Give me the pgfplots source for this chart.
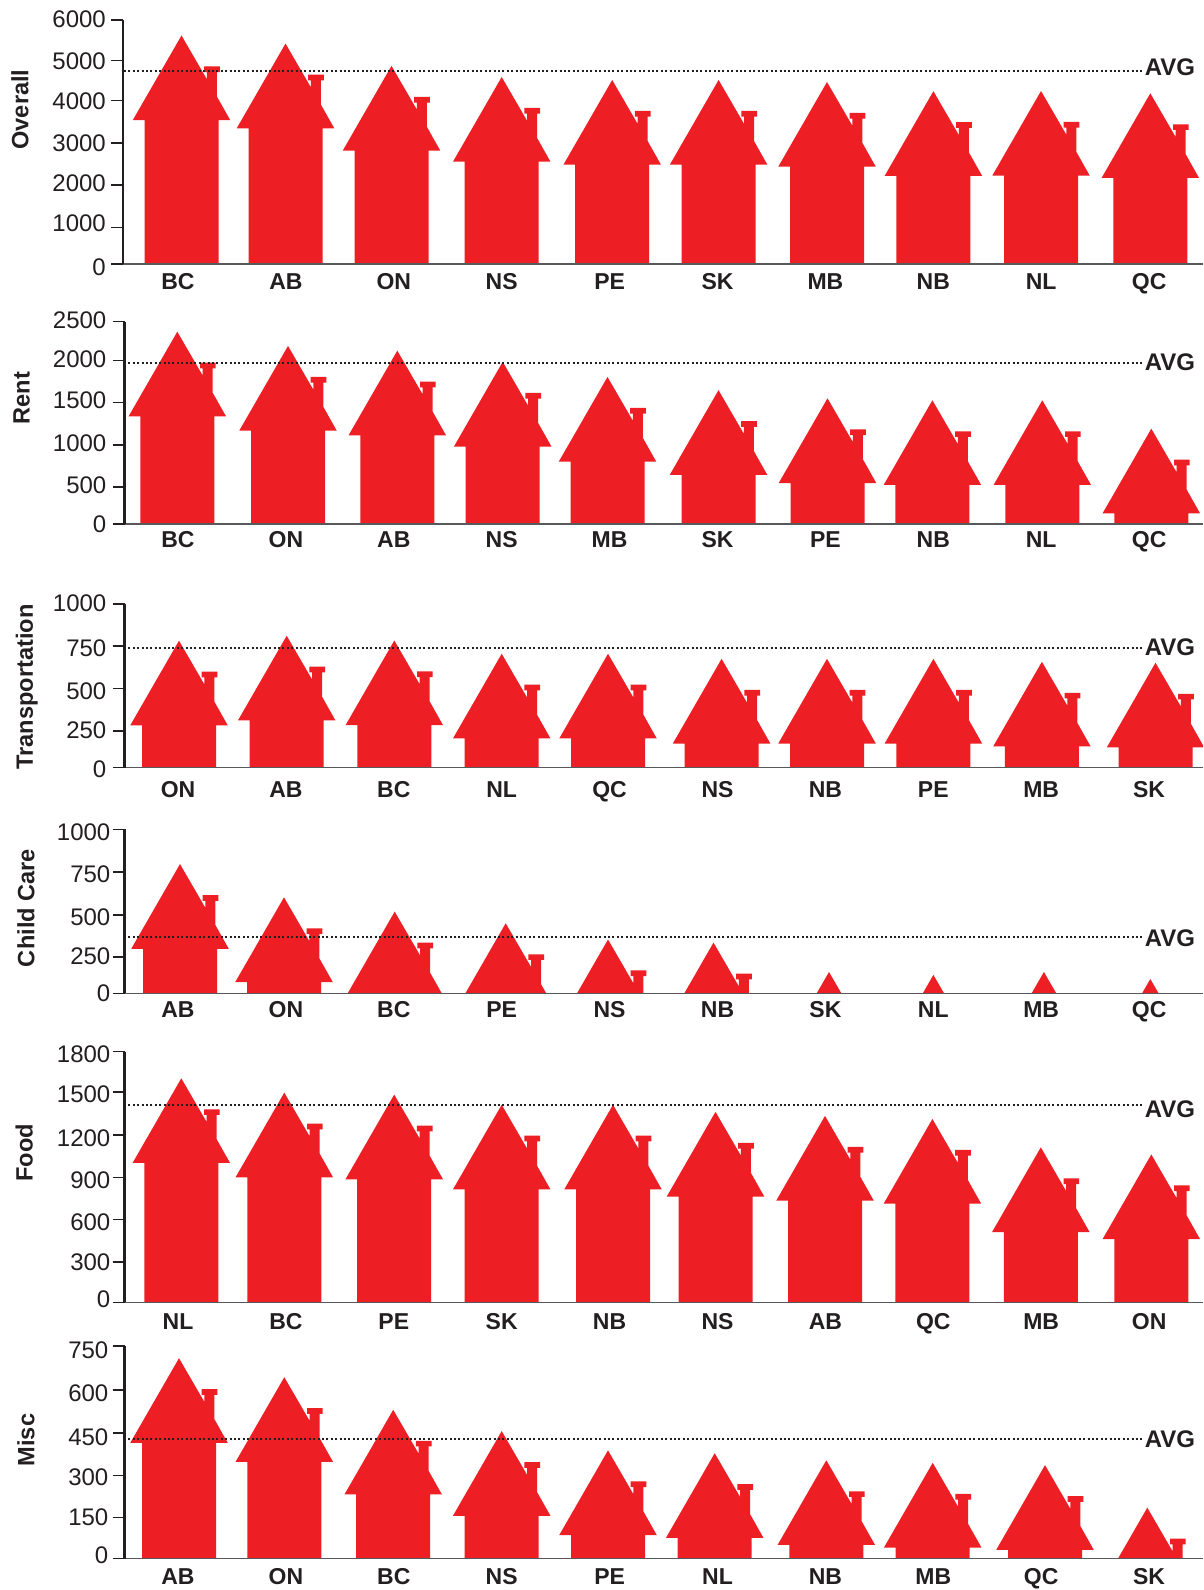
\documentclass[border=0pt]{standalone}
\usepackage{fontspec}
\setmainfont{Liberation Sans}
\usepackage{pgfplots}
\usepackage{pgfplotstable}
\pgfplotsset{compat=1.18}

\definecolor{housered}{HTML}{ED1F24}
\definecolor{inkdark}{HTML}{231F20}
\definecolor{basegray}{HTML}{58595B}

% house outline in px, measured down from the apex
\pgfplotstableread{
dx dy
0 0
25.4 43.8
25.4 36.7
22.7 36.7
22.7 31
38.4 31
38.4 36.7
35.4 36.7
35.4 61
48.75 84.7
37 84.7
37 700
-37 700
-37 84.7
-48.75 84.7
0 0
}\houseshape

% \house{apex x in px}{value}; \upp = units per px of the current panel
\newcommand{\house}[2]{%
  \addplot[fill=housered,draw=none,mark=none,forget plot]
    table[x expr=#1+\thisrow{dx},y expr=#2-\thisrow{dy}*\upp] {\houseshape};
}
\newcommand{\avgline}[2]{%
  \addplot[inkdark,line width=1.9pt,dash pattern=on 1.9pt off 2.5pt,mark=none,forget plot]
    coordinates {(124,#1) (1141.7,#1)};
  \node[font=\fontsize{24}{24}\selectfont\bfseries,text=inkdark,inner sep=0pt] at (axis cs:1170,#2) {AVG};
}
% tick label moved by #1 px downward
\newcommand{\tl}[2]{\raisebox{\dimexpr-8.6pt-#1pt\relax}[0pt][0pt]{#2}}

\pgfplotsset{
  panel/.style={
    anchor=south west,
    scale only axis,
    axis on top,
    axis lines=left,
    axis line style={-},
    ymin=0,
    xmax=1203,
    xtick={178,285.9,393.8,501.7,609.6,717.5,825.4,933.3,1041.2,1149.1},
    major x tick style={draw=none},
    major tick length=12pt,
    tick align=outside,
    ytick style={inkdark,line width=1.5pt},
    y axis line style={inkdark,line width=2.2pt},
    x axis line style={basegray,line width=1.4pt},
    minor tick num=0,
    yticklabel style={font=\fontsize{24}{24}\selectfont,text=inkdark,inner sep=0pt,anchor=east},
    ylabel style={font=\fontsize{23.6}{24}\selectfont\bfseries,text=inkdark,anchor=center},
    scaled y ticks=false,
  },
  xlab/.style={
    xticklabel style={font=\fontsize{23}{23}\selectfont\bfseries,text=inkdark,anchor=center,
      text height=16pt,text depth=0pt,inner sep=0pt,yshift=#1},
  },
}

\begin{document}
\begin{tikzpicture}[x=1pt,y=1pt]
\useasboundingbox (0,0) rectangle (1203pt,1590pt);

% Overall
\def\upp{24.59}
\begin{axis}[panel,xlab=-5.5pt,at={(123pt,1326pt)},width=1080pt,height=244pt,
    xmin=123,ymax=6000,
    ytick={0,893,1943,2975,4016,5009,6000},
    yticklabels={\tl{2.7}{0},\tl{-4.3}{1000},\tl{-2}{2000},\tl{-0.3}{3000},\tl{0.3}{4000},\tl{0.7}{5000},\tl{-0.7}{6000}},
    yticklabel style={xshift=-5pt},
    xticklabels={BC,AB,ON,NS,PE,SK,MB,NB,NL,QC},
    ylabel={Overall},ylabel style={at={(axis description cs:-0.0954,0.633)}}]
\house{181.5}{5619}
\house{285.5}{5420}
\house{391.5}{4871}
\house{501.7}{4598}
\house{612.2}{4525}
\house{718.6}{4525}
\house{827}{4475}
\house{933.4}{4249}
\house{1041}{4254}
\house{1150.3}{4197}
\avgline{4739}{4828}
\end{axis}

% Rent
\def\upp{12.358}
\begin{axis}[panel,xlab=-3.5pt,at={(124.5pt,1066pt)},width=1078.5pt,height=202.3pt,
    xmin=124.5,ymax=2500,
    ytick={0,454,976,1499,2023,2500},
    yticklabels={\tl{0}{0},\tl{-2.3}{500},\tl{-1.7}{1000},\tl{-2.7}{1500},\tl{-1}{2000},\tl{-1.7}{2500}},
    yticklabel style={xshift=-6pt},
    xticklabels={BC,ON,AB,NS,MB,SK,PE,NB,NL,QC},
    ylabel={Rent},ylabel style={at={(axis description cs:-0.0953,0.623)}}]
\house{177.3}{2376}
\house{288}{2200}
\house{397.3}{2142}
\house{502.7}{2004}
\house{607.5}{1817}
\house{718.5}{1654}
\house{827.5}{1553}
\house{932.4}{1529}
\house{1042.3}{1529}
\house{1151.3}{1178}
\avgline{1990}{2002}
\end{axis}

% Transportation
\def\upp{6.109}
\begin{axis}[panel,xlab=-10pt,at={(124.5pt,822.3pt)},width=1078.5pt,height=163.7pt,
    xmin=124.5,ymax=1000,
    ytick={0,224,483,742,1000},
    yticklabels={\tl{1.7}{0},\tl{-1}{250},\tl{2}{500},\tl{2}{750},\tl{-0.7}{1000}},
    yticklabel style={xshift=-6pt},
    xticklabels={ON,AB,BC,NL,QC,NS,NB,PE,MB,SK},
    ylabel={Transportation},ylabel style={at={(axis description cs:-0.0907,0.493)}}]
\house{179}{776}
\house{286.7}{806}
\house{394.3}{777}
\house{501.7}{696}
\house{608}{696}
\house{721.6}{665}
\house{827}{665}
\house{933.4}{665}
\house{1041.9}{647}
\house{1155.5}{641}
\avgline{731}{734}
\end{axis}

% Child Care
\def\upp{6.098}
\begin{axis}[panel,xlab=-4.7pt,at={(124.5pt,596.7pt)},width=1078.5pt,height=164pt,
    xmin=124.5,ymax=1000,
    ytick={0,220,477,738,1000},
    yticklabels={\tl{-0.7}{0},\tl{-1.7}{250},\tl{1.7}{500},\tl{1.7}{750},\tl{2.3}{1000}},
    yticklabel style={xshift=-2pt},
    xticklabels={AB,ON,BC,PE,NS,NB,SK,NL,MB,QC},
    ylabel={Child Care},ylabel style={at={(axis description cs:-0.0913,0.520)}}]
\house{180}{788}
\house{284}{585}
\house{394.7}{498}
\house{505.7}{427}
\house{608}{328}
\house{713.5}{309}
\house{829}{130}
\house{933.4}{112}
\house{1043.9}{130}
\house{1150.3}{87}
\avgline{343}{334}
\end{axis}

% Food
\def\upp{7.183}
\begin{axis}[panel,xlab=-7.4pt,at={(124.5pt,287.7pt)},width=1078.5pt,height=250.6pt,
    xmin=124.5,ymax=1800,
    ytick={0,289,593,898,1202,1511,1800},
    yticklabels={\tl{-3}{0},\tl{0}{300},\tl{2}{600},\tl{2.7}{900},\tl{2.7}{1200},\tl{2}{1500},\tl{2.3}{1800}},
    yticklabel style={xshift=-2pt},
    xticklabels={NL,BC,PE,SK,NB,NS,AB,QC,MB,ON},
    ylabel={Food},ylabel style={at={(axis description cs:-0.0929,0.596)}}]
\house{181.3}{1609}
\house{284.3}{1506}
\house{394.2}{1492}
\house{501.7}{1419}
\house{613}{1419}
\house{715.5}{1368}
\house{825}{1339}
\house{932.4}{1317}
\house{1040.8}{1113}
\house{1151.3}{1062}
\avgline{1415}{1390}
\end{axis}

% Misc
\def\upp{3.526}
\begin{axis}[panel,xlab=-6pt,at={(124.5pt,31.3pt)},width=1078.5pt,height=212.7pt,
    xmin=124.5,ymax=750,
    ytick={0,145,294,443,594,750},
    yticklabels={\tl{-3.7}{0},\tl{-1}{150},\tl{2}{300},\tl{3.7}{450},\tl{2.3}{600},\tl{4}{750}},
    yticklabel style={xshift=-4pt},
    xticklabels={AB,ON,BC,NS,PE,NL,NB,MB,QC,SK},
    ylabel={Misc},ylabel style={at={(axis description cs:-0.0913,0.558)}}]
\house{179}{707}
\house{284.3}{640}
\house{393.2}{525}
\house{501.7}{450}
\house{608}{382}
\house{714.7}{372}
\house{826.3}{347}
\house{932.7}{338}
\house{1045}{330}
\house{1147.3}{180}
\avgline{423}{421}
\end{axis}
\end{tikzpicture}
\end{document}
